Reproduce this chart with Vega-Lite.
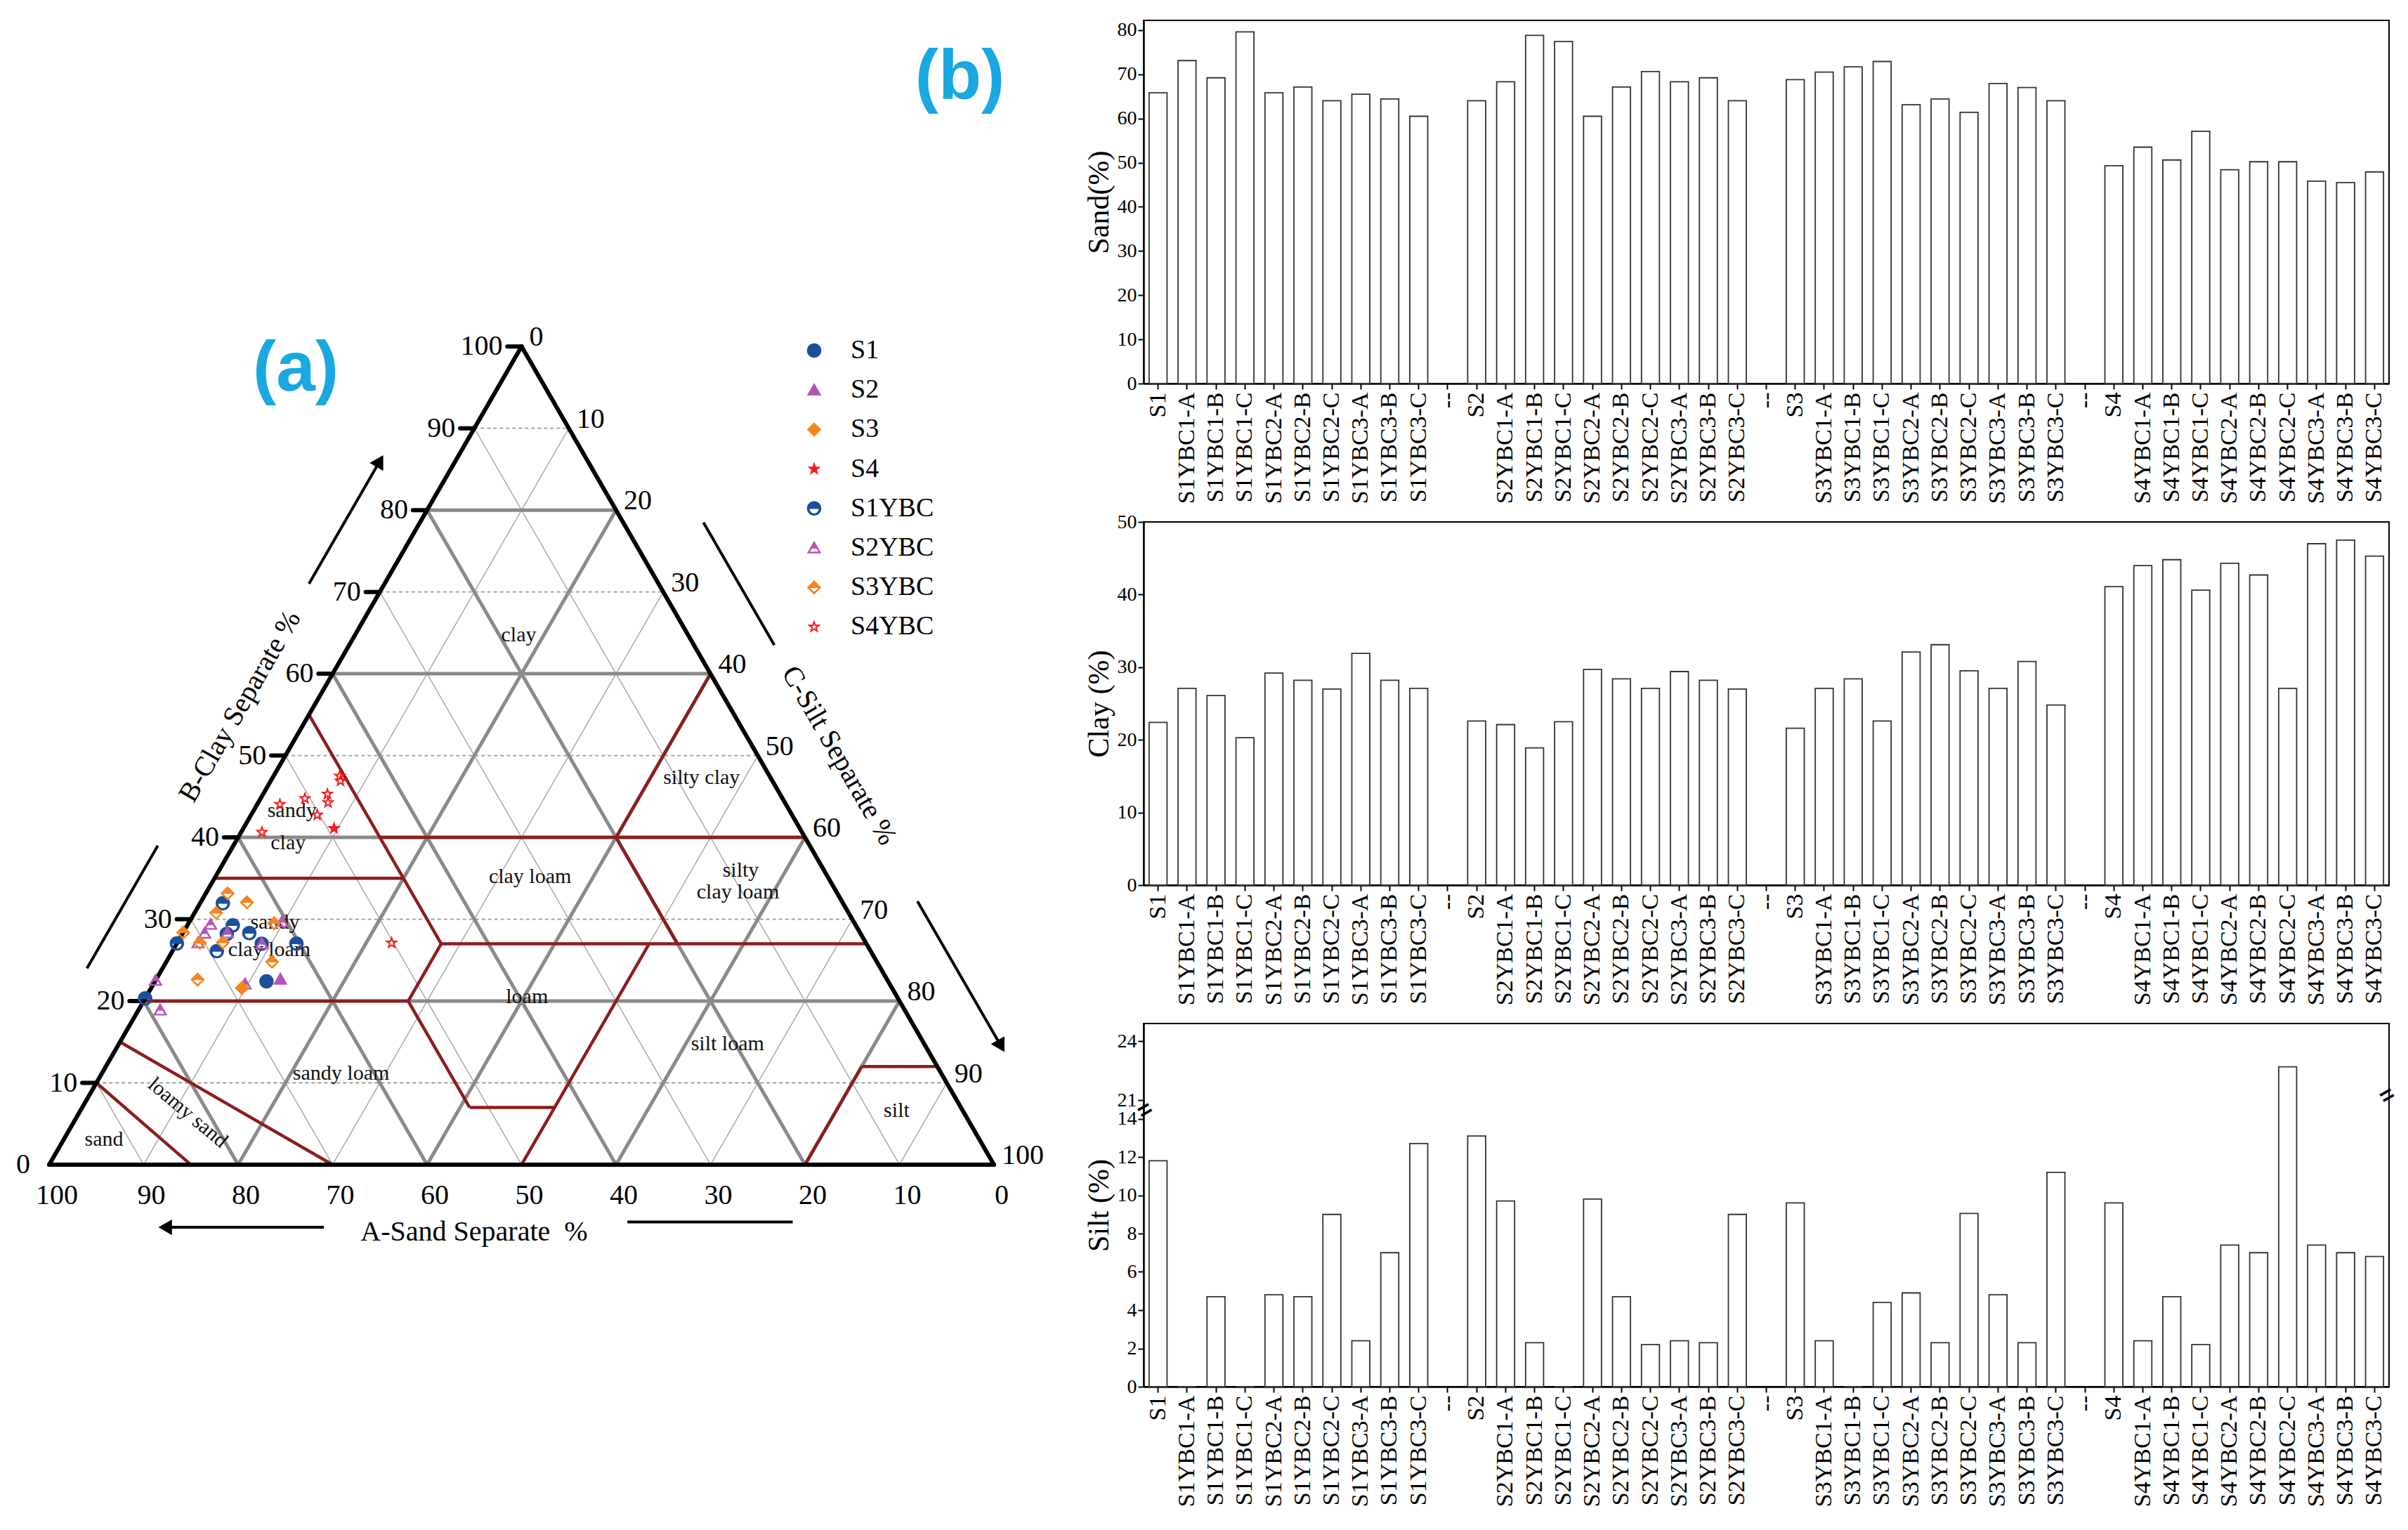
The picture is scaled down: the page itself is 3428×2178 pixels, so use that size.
{
  "$schema": "https://vega.github.io/schema/vega-lite/v6.json",
  "background": "white",
  "padding": {"left": 0, "top": 27, "right": 0, "bottom": 0},
  "config": {
    "font": "Liberation Serif",
    "view": {"stroke": null},
    "axis": {"labelFont": "Liberation Serif", "titleFont": "Liberation Serif", "labelColor": "black", "titleColor": "black", "domainColor": "black", "tickColor": "black", "domainWidth": 2.5, "tickWidth": 2, "tickSize": 8, "grid": false, "titleFontWeight": "normal", "labelOverlap": false}
  },
  "datasets": {
    "soil": [
      {"sample": "S1", "group": "S1", "sand": 65.8, "clay": 22.4, "silt": 11.8},
      {"sample": "S1YBC1-A", "group": "S1YBC", "sand": 73.1, "clay": 27.1, "silt": 0},
      {"sample": "S1YBC1-B", "group": "S1YBC", "sand": 69.2, "clay": 26.1, "silt": 4.7},
      {"sample": "S1YBC1-C", "group": "S1YBC", "sand": 79.6, "clay": 20.3, "silt": 0},
      {"sample": "S1YBC2-A", "group": "S1YBC", "sand": 65.8, "clay": 29.2, "silt": 4.8},
      {"sample": "S1YBC2-B", "group": "S1YBC", "sand": 67.1, "clay": 28.2, "silt": 4.7},
      {"sample": "S1YBC2-C", "group": "S1YBC", "sand": 64.0, "clay": 27.0, "silt": 9.0},
      {"sample": "S1YBC3-A", "group": "S1YBC", "sand": 65.5, "clay": 31.9, "silt": 2.4},
      {"sample": "S1YBC3-B", "group": "S1YBC", "sand": 64.4, "clay": 28.2, "silt": 7.0},
      {"sample": "S1YBC3-C", "group": "S1YBC", "sand": 60.5, "clay": 27.1, "silt": 12.7},
      {"sample": "S2", "group": "S2", "sand": 64.0, "clay": 22.6, "silt": 13.1},
      {"sample": "S2YBC1-A", "group": "S2YBC", "sand": 68.3, "clay": 22.1, "silt": 9.7},
      {"sample": "S2YBC1-B", "group": "S2YBC", "sand": 78.8, "clay": 18.9, "silt": 2.3},
      {"sample": "S2YBC1-C", "group": "S2YBC", "sand": 77.4, "clay": 22.5, "silt": 0},
      {"sample": "S2YBC2-A", "group": "S2YBC", "sand": 60.5, "clay": 29.7, "silt": 9.8},
      {"sample": "S2YBC2-B", "group": "S2YBC", "sand": 67.1, "clay": 28.4, "silt": 4.7},
      {"sample": "S2YBC2-C", "group": "S2YBC", "sand": 70.6, "clay": 27.1, "silt": 2.2},
      {"sample": "S2YBC3-A", "group": "S2YBC", "sand": 68.3, "clay": 29.4, "silt": 2.4},
      {"sample": "S2YBC3-B", "group": "S2YBC", "sand": 69.2, "clay": 28.2, "silt": 2.3},
      {"sample": "S2YBC3-C", "group": "S2YBC", "sand": 64.0, "clay": 27.0, "silt": 9.0},
      {"sample": "S3", "group": "S3", "sand": 68.8, "clay": 21.6, "silt": 9.6},
      {"sample": "S3YBC1-A", "group": "S3YBC", "sand": 70.5, "clay": 27.1, "silt": 2.4},
      {"sample": "S3YBC1-B", "group": "S3YBC", "sand": 71.7, "clay": 28.4, "silt": 0},
      {"sample": "S3YBC1-C", "group": "S3YBC", "sand": 72.9, "clay": 22.6, "silt": 4.4},
      {"sample": "S3YBC2-A", "group": "S3YBC", "sand": 63.1, "clay": 32.1, "silt": 4.9},
      {"sample": "S3YBC2-B", "group": "S3YBC", "sand": 64.4, "clay": 33.1, "silt": 2.3},
      {"sample": "S3YBC2-C", "group": "S3YBC", "sand": 61.4, "clay": 29.5, "silt": 9.05},
      {"sample": "S3YBC3-A", "group": "S3YBC", "sand": 67.9, "clay": 27.1, "silt": 4.8},
      {"sample": "S3YBC3-B", "group": "S3YBC", "sand": 67.0, "clay": 30.8, "silt": 2.3},
      {"sample": "S3YBC3-C", "group": "S3YBC", "sand": 64.0, "clay": 24.8, "silt": 11.2},
      {"sample": "S4", "group": "S4", "sand": 49.3, "clay": 41.1, "silt": 9.6},
      {"sample": "S4YBC1-A", "group": "S4YBC", "sand": 53.5, "clay": 44.0, "silt": 2.4},
      {"sample": "S4YBC1-B", "group": "S4YBC", "sand": 50.6, "clay": 44.8, "silt": 4.7},
      {"sample": "S4YBC1-C", "group": "S4YBC", "sand": 57.1, "clay": 40.6, "silt": 2.2},
      {"sample": "S4YBC2-A", "group": "S4YBC", "sand": 48.4, "clay": 44.3, "silt": 7.4},
      {"sample": "S4YBC2-B", "group": "S4YBC", "sand": 50.2, "clay": 42.7, "silt": 7.0},
      {"sample": "S4YBC2-C", "group": "S4YBC", "sand": 50.2, "clay": 27.1, "silt": 22.7},
      {"sample": "S4YBC3-A", "group": "S4YBC", "sand": 45.8, "clay": 47.0, "silt": 7.4},
      {"sample": "S4YBC3-B", "group": "S4YBC", "sand": 45.5, "clay": 47.5, "silt": 7.0},
      {"sample": "S4YBC3-C", "group": "S4YBC", "sand": 47.9, "clay": 45.3, "silt": 6.8}
    ],
    "lines": [
      {"kind": "minor", "s1": 10, "c1": 0, "s2": 10, "c2": 90},
      {"kind": "minor", "s1": 30, "c1": 0, "s2": 30, "c2": 70},
      {"kind": "minor", "s1": 50, "c1": 0, "s2": 50, "c2": 50},
      {"kind": "minor", "s1": 70, "c1": 0, "s2": 70, "c2": 30},
      {"kind": "minor", "s1": 90, "c1": 0, "s2": 90, "c2": 10},
      {"kind": "minor", "s1": 10, "c1": 0, "s2": 0, "c2": 10},
      {"kind": "minor", "s1": 30, "c1": 0, "s2": 0, "c2": 30},
      {"kind": "minor", "s1": 50, "c1": 0, "s2": 0, "c2": 50},
      {"kind": "minor", "s1": 70, "c1": 0, "s2": 0, "c2": 70},
      {"kind": "minor", "s1": 90, "c1": 0, "s2": 0, "c2": 90},
      {"kind": "minorh", "s1": 0, "c1": 10, "s2": 90, "c2": 10},
      {"kind": "minorh", "s1": 0, "c1": 30, "s2": 70, "c2": 30},
      {"kind": "minorh", "s1": 0, "c1": 50, "s2": 50, "c2": 50},
      {"kind": "minorh", "s1": 0, "c1": 70, "s2": 30, "c2": 70},
      {"kind": "minorh", "s1": 0, "c1": 90, "s2": 10, "c2": 90},
      {"kind": "major", "s1": 20, "c1": 0, "s2": 20, "c2": 80},
      {"kind": "major", "s1": 40, "c1": 0, "s2": 40, "c2": 60},
      {"kind": "major", "s1": 60, "c1": 0, "s2": 60, "c2": 40},
      {"kind": "major", "s1": 80, "c1": 0, "s2": 80, "c2": 20},
      {"kind": "major", "s1": 20, "c1": 0, "s2": 0, "c2": 20},
      {"kind": "major", "s1": 40, "c1": 0, "s2": 0, "c2": 40},
      {"kind": "major", "s1": 60, "c1": 0, "s2": 0, "c2": 60},
      {"kind": "major", "s1": 80, "c1": 0, "s2": 0, "c2": 80},
      {"kind": "major", "s1": 0, "c1": 20, "s2": 80, "c2": 20},
      {"kind": "major", "s1": 0, "c1": 40, "s2": 60, "c2": 40},
      {"kind": "major", "s1": 0, "c1": 60, "s2": 40, "c2": 60},
      {"kind": "major", "s1": 0, "c1": 80, "s2": 20, "c2": 80},
      {"kind": "usda", "s1": 15, "c1": 0, "s2": 0, "c2": 10},
      {"kind": "usda", "s1": 30, "c1": 0, "s2": 0, "c2": 15},
      {"kind": "usda", "s1": 0, "c1": 20, "s2": 28, "c2": 20},
      {"kind": "usda", "s1": 28, "c1": 20, "s2": 28, "c2": 27},
      {"kind": "usda", "s1": 28, "c1": 20, "s2": 41, "c2": 7},
      {"kind": "usda", "s1": 41, "c1": 7, "s2": 50, "c2": 7},
      {"kind": "usda", "s1": 50, "c1": 0, "s2": 50, "c2": 27},
      {"kind": "usda", "s1": 28, "c1": 27, "s2": 73, "c2": 27},
      {"kind": "usda", "s1": 28, "c1": 27, "s2": 0, "c2": 55},
      {"kind": "usda", "s1": 0, "c1": 35, "s2": 20, "c2": 35},
      {"kind": "usda", "s1": 15, "c1": 40, "s2": 60, "c2": 40},
      {"kind": "usda", "s1": 53, "c1": 27, "s2": 40, "c2": 40},
      {"kind": "usda", "s1": 40, "c1": 40, "s2": 40, "c2": 60},
      {"kind": "usda", "s1": 80, "c1": 0, "s2": 80, "c2": 12},
      {"kind": "usda", "s1": 80, "c1": 12, "s2": 88, "c2": 12},
      {"kind": "edge", "s1": 0, "c1": 0, "s2": 0, "c2": 100},
      {"kind": "edge", "s1": 0, "c1": 100, "s2": 100, "c2": 0},
      {"kind": "edge", "s1": 0, "c1": 0, "s2": 100, "c2": 0},
      {"kind": "tick", "s1": -1.5, "c1": 10, "s2": 0, "c2": 10},
      {"kind": "tick", "s1": -1.5, "c1": 20, "s2": 0, "c2": 20},
      {"kind": "tick", "s1": -1.5, "c1": 30, "s2": 0, "c2": 30},
      {"kind": "tick", "s1": -1.5, "c1": 40, "s2": 0, "c2": 40},
      {"kind": "tick", "s1": -1.5, "c1": 50, "s2": 0, "c2": 50},
      {"kind": "tick", "s1": -1.5, "c1": 60, "s2": 0, "c2": 60},
      {"kind": "tick", "s1": -1.5, "c1": 70, "s2": 0, "c2": 70},
      {"kind": "tick", "s1": -1.5, "c1": 80, "s2": 0, "c2": 80},
      {"kind": "tick", "s1": -1.5, "c1": 90, "s2": 0, "c2": 90},
      {"kind": "tick", "s1": -1.5, "c1": 100, "s2": 0, "c2": 100},
      {"kind": "arrow", "s1": -8, "c1": 71, "s2": -8, "c2": 86},
      {"kind": "arrow", "s1": -8, "c1": 24, "s2": -8, "c2": 39},
      {"kind": "arrow", "s1": 30, "c1": 78.5, "s2": 45, "c2": 63.5},
      {"kind": "arrow", "s1": 75.8, "c1": 32.2, "s2": 93.5, "c2": 14.5},
      {"kind": "arrow", "s1": 32.9, "c1": -7.65, "s2": 16.1, "c2": -7.65},
      {"kind": "arrow", "s1": 64.7, "c1": -7.0, "s2": 82.2, "c2": -7.0}
    ],
    "ticklabels": [
      {"side": "clay", "label": "0", "silt": 0, "clay": 0},
      {"side": "clay", "label": "10", "silt": 0, "clay": 10},
      {"side": "clay", "label": "20", "silt": 0, "clay": 20},
      {"side": "clay", "label": "30", "silt": 0, "clay": 30},
      {"side": "clay", "label": "40", "silt": 0, "clay": 40},
      {"side": "clay", "label": "50", "silt": 0, "clay": 50},
      {"side": "clay", "label": "60", "silt": 0, "clay": 60},
      {"side": "clay", "label": "70", "silt": 0, "clay": 70},
      {"side": "clay", "label": "80", "silt": 0, "clay": 80},
      {"side": "clay", "label": "90", "silt": 0, "clay": 90},
      {"side": "clay", "label": "100", "silt": 0, "clay": 100},
      {"side": "silt", "label": "0", "silt": 0, "clay": 100},
      {"side": "silt", "label": "10", "silt": 10, "clay": 90},
      {"side": "silt", "label": "20", "silt": 20, "clay": 80},
      {"side": "silt", "label": "30", "silt": 30, "clay": 70},
      {"side": "silt", "label": "40", "silt": 40, "clay": 60},
      {"side": "silt", "label": "50", "silt": 50, "clay": 50},
      {"side": "silt", "label": "60", "silt": 60, "clay": 40},
      {"side": "silt", "label": "70", "silt": 70, "clay": 30},
      {"side": "silt", "label": "80", "silt": 80, "clay": 20},
      {"side": "silt", "label": "90", "silt": 90, "clay": 10},
      {"side": "silt", "label": "100", "silt": 100, "clay": 0},
      {"side": "sand", "label": "100", "silt": 0, "clay": 0},
      {"side": "sand", "label": "90", "silt": 10, "clay": 0},
      {"side": "sand", "label": "80", "silt": 20, "clay": 0},
      {"side": "sand", "label": "70", "silt": 30, "clay": 0},
      {"side": "sand", "label": "60", "silt": 40, "clay": 0},
      {"side": "sand", "label": "50", "silt": 50, "clay": 0},
      {"side": "sand", "label": "40", "silt": 60, "clay": 0},
      {"side": "sand", "label": "30", "silt": 70, "clay": 0},
      {"side": "sand", "label": "20", "silt": 80, "clay": 0},
      {"side": "sand", "label": "10", "silt": 90, "clay": 0},
      {"side": "sand", "label": "0", "silt": 100, "clay": 0}
    ],
    "regions": [
      {"label": "clay", "silt": 17.35, "clay": 64.7},
      {"label": "silty clay", "silt": 45.4, "clay": 47.3},
      {"label": "sandy", "silt": 4.05, "clay": 43.3},
      {"label": "clay", "silt": 5.65, "clay": 39.3},
      {"label": "sandy", "silt": 9.1, "clay": 29.6},
      {"label": "clay loam", "silt": 10.15, "clay": 26.3},
      {"label": "clay loam", "silt": 33.3, "clay": 35.2},
      {"label": "silty", "silt": 55.2, "clay": 36.0},
      {"label": "clay loam", "silt": 56.25, "clay": 33.3},
      {"label": "loam", "silt": 40.3, "clay": 20.55},
      {"label": "silt loam", "silt": 64.4, "clay": 14.8},
      {"label": "sandy loam", "silt": 25.3, "clay": 11.2},
      {"label": "sand", "silt": 4.25, "clay": 3.1},
      {"label": "silt", "silt": 86.4, "clay": 6.6},
      {"label": "loamy sand", "silt": 11.5, "clay": 6.35}
    ]
  },
  "spacing": 148,
  "bounds": "flush",
  "hconcat": [
    {
      "width": 1480,
      "height": 1823,
      "encoding": {
        "x": {"field": "x", "type": "quantitative", "scale": {"domain": [-5.204, 104.833], "nice": false, "zero": false}, "axis": null},
        "y": {"field": "y", "type": "quantitative", "scale": {"domain": [-14.424, 121.115], "nice": false, "zero": false}, "axis": null}
      },
      "layer": [
        {
          "data": {"name": "lines"},
          "transform": [{"filter": "datum.kind == 'minor'"}, {"calculate": "datum.s1 + datum.c1 / 2", "as": "x"}, {"calculate": "datum.c1 * 0.8660254", "as": "y"}, {"calculate": "datum.s2 + datum.c2 / 2", "as": "x2"}, {"calculate": "datum.c2 * 0.8660254", "as": "y2"}],
          "mark": {"type": "rule", "color": "#a9a9a9", "strokeWidth": 1.5},
          "encoding": {"x2": {"field": "x2"}, "y2": {"field": "y2"}}
        },
        {
          "data": {"name": "lines"},
          "transform": [{"filter": "datum.kind == 'minorh'"}, {"calculate": "datum.s1 + datum.c1 / 2", "as": "x"}, {"calculate": "datum.c1 * 0.8660254", "as": "y"}, {"calculate": "datum.s2 + datum.c2 / 2", "as": "x2"}, {"calculate": "datum.c2 * 0.8660254", "as": "y2"}],
          "mark": {"type": "rule", "color": "#9a9a9a", "strokeWidth": 1.8, "strokeDash": [5, 4]},
          "encoding": {"x2": {"field": "x2"}, "y2": {"field": "y2"}}
        },
        {
          "data": {"name": "lines"},
          "transform": [{"filter": "datum.kind == 'major'"}, {"calculate": "datum.s1 + datum.c1 / 2", "as": "x"}, {"calculate": "datum.c1 * 0.8660254", "as": "y"}, {"calculate": "datum.s2 + datum.c2 / 2", "as": "x2"}, {"calculate": "datum.c2 * 0.8660254", "as": "y2"}],
          "mark": {"type": "rule", "color": "#8a8a8a", "strokeWidth": 5},
          "encoding": {"x2": {"field": "x2"}, "y2": {"field": "y2"}}
        },
        {
          "data": {"name": "lines"},
          "transform": [{"filter": "datum.kind == 'usda'"}, {"calculate": "datum.s1 + datum.c1 / 2", "as": "x"}, {"calculate": "datum.c1 * 0.8660254", "as": "y"}, {"calculate": "datum.s2 + datum.c2 / 2", "as": "x2"}, {"calculate": "datum.c2 * 0.8660254", "as": "y2"}],
          "mark": {"type": "rule", "color": "#8b1e1e", "strokeWidth": 4.5},
          "encoding": {"x2": {"field": "x2"}, "y2": {"field": "y2"}}
        },
        {
          "data": {"name": "lines"},
          "transform": [{"filter": "datum.kind == 'edge' || datum.kind == 'tick'"}, {"calculate": "datum.s1 + datum.c1 / 2", "as": "x"}, {"calculate": "datum.c1 * 0.8660254", "as": "y"}, {"calculate": "datum.s2 + datum.c2 / 2", "as": "x2"}, {"calculate": "datum.c2 * 0.8660254", "as": "y2"}],
          "mark": {"type": "rule", "color": "black", "strokeWidth": 6, "strokeCap": "round"},
          "encoding": {"x2": {"field": "x2"}, "y2": {"field": "y2"}}
        },
        {
          "data": {"name": "lines"},
          "transform": [{"filter": "datum.kind == 'arrow'"}, {"calculate": "datum.s1 + datum.c1 / 2", "as": "x"}, {"calculate": "datum.c1 * 0.8660254", "as": "y"}, {"calculate": "datum.s2 + datum.c2 / 2", "as": "x2"}, {"calculate": "datum.c2 * 0.8660254", "as": "y2"}],
          "mark": {"type": "rule", "color": "black", "strokeWidth": 4},
          "encoding": {"x2": {"field": "x2"}, "y2": {"field": "y2"}}
        },
        {
          "data": {"values": [{"silt": -8, "clay": 86}]},
          "transform": [{"calculate": "datum.silt + datum.clay / 2", "as": "x"}, {"calculate": "datum.clay * 0.8660254", "as": "y"}],
          "mark": {"type": "point", "shape": "triangle-up", "filled": true, "color": "black", "size": 500, "angle": 30, "opacity": 1}
        },
        {
          "data": {"values": [{"silt": 93.5, "clay": 14.5}]},
          "transform": [{"calculate": "datum.silt + datum.clay / 2", "as": "x"}, {"calculate": "datum.clay * 0.8660254", "as": "y"}],
          "mark": {"type": "point", "shape": "triangle-up", "filled": true, "color": "black", "size": 500, "angle": 150, "opacity": 1}
        },
        {
          "data": {"values": [{"silt": 16.1, "clay": -7.65}]},
          "transform": [{"calculate": "datum.silt + datum.clay / 2", "as": "x"}, {"calculate": "datum.clay * 0.8660254", "as": "y"}],
          "mark": {"type": "point", "shape": "triangle-up", "filled": true, "color": "black", "size": 500, "angle": -90, "opacity": 1}
        },
        {
          "data": {"name": "ticklabels"},
          "transform": [{"filter": "datum.side == 'clay'"}, {"calculate": "datum.silt + datum.clay / 2", "as": "x"}, {"calculate": "datum.clay * 0.8660254", "as": "y"}],
          "mark": {"type": "text", "align": "right", "baseline": "middle", "dx": -27, "fontSize": 40, "color": "black"},
          "encoding": {"text": {"field": "label"}}
        },
        {
          "data": {"name": "ticklabels"},
          "transform": [{"filter": "datum.side == 'silt'"}, {"calculate": "datum.silt + datum.clay / 2", "as": "x"}, {"calculate": "datum.clay * 0.8660254", "as": "y"}],
          "mark": {"type": "text", "align": "left", "baseline": "middle", "dx": 11, "dy": -13, "fontSize": 40, "color": "black"},
          "encoding": {"text": {"field": "label"}}
        },
        {
          "data": {"name": "ticklabels"},
          "transform": [{"filter": "datum.side == 'sand'"}, {"calculate": "datum.silt + datum.clay / 2", "as": "x"}, {"calculate": "datum.clay * 0.8660254", "as": "y"}],
          "mark": {"type": "text", "align": "center", "baseline": "middle", "dx": 11, "dy": 44, "fontSize": 40, "color": "black"},
          "encoding": {"text": {"field": "label"}}
        },
        {
          "data": {"name": "regions"},
          "transform": [{"filter": "datum.label != 'loamy sand'"}, {"calculate": "datum.silt + datum.clay / 2", "as": "x"}, {"calculate": "datum.clay * 0.8660254", "as": "y"}],
          "mark": {"type": "text", "align": "center", "baseline": "middle", "fontSize": 30, "color": "#111111"},
          "encoding": {"text": {"field": "label"}}
        },
        {
          "data": {"name": "regions"},
          "transform": [{"filter": "datum.label == 'loamy sand'"}, {"calculate": "datum.silt + datum.clay / 2", "as": "x"}, {"calculate": "datum.clay * 0.8660254", "as": "y"}],
          "mark": {"type": "text", "align": "center", "baseline": "middle", "fontSize": 30, "angle": 40, "color": "#111111"},
          "encoding": {"text": {"field": "label"}}
        },
        {
          "data": {"values": [{"label": "A-Sand Separate\u2002%", "silt": 49.1, "clay": -8.24}]},
          "transform": [{"calculate": "datum.silt + datum.clay / 2", "as": "x"}, {"calculate": "datum.clay * 0.8660254", "as": "y"}],
          "mark": {"type": "text", "align": "center", "baseline": "middle", "fontSize": 40, "color": "black"},
          "encoding": {"text": {"field": "label"}}
        },
        {
          "data": {"values": [{"label": "B-Clay Separate  %", "silt": -7.8, "clay": 56.0}]},
          "transform": [{"calculate": "datum.silt + datum.clay / 2", "as": "x"}, {"calculate": "datum.clay * 0.8660254", "as": "y"}],
          "mark": {"type": "text", "align": "center", "baseline": "middle", "fontSize": 40, "angle": -60, "color": "black"},
          "encoding": {"text": {"field": "label"}}
        },
        {
          "data": {"values": [{"label": "C-Silt Separate  %", "silt": 58.6, "clay": 50.0}]},
          "transform": [{"calculate": "datum.silt + datum.clay / 2", "as": "x"}, {"calculate": "datum.clay * 0.8660254", "as": "y"}],
          "mark": {"type": "text", "align": "center", "baseline": "middle", "fontSize": 40, "angle": 60, "color": "black"},
          "encoding": {"text": {"field": "label"}}
        },
        {
          "data": {"values": [{"label": "(a)", "silt": -22.5, "clay": 97.2}, {"label": "(b)", "silt": 30.0, "clay": 132.8}]},
          "transform": [{"calculate": "datum.silt + datum.clay / 2", "as": "x"}, {"calculate": "datum.clay * 0.8660254", "as": "y"}],
          "mark": {"type": "text", "align": "center", "baseline": "middle", "fontSize": 100, "font": "Liberation Sans", "fontWeight": "bold", "color": "#1aa8e0"},
          "encoding": {"text": {"field": "label"}}
        },
        {
          "data": {"name": "soil"},
          "transform": [{"calculate": "(datum.silt + datum.clay / 2) * 100 / (datum.sand + datum.clay + datum.silt)", "as": "x"}, {"calculate": "datum.clay * 0.8660254 * 100 / (datum.sand + datum.clay + datum.silt)", "as": "y"}],
          "mark": {"type": "point", "filled": true, "size": 420, "opacity": 1, "strokeWidth": 0},
          "encoding": {
            "color": {
              "field": "group", "type": "nominal",
              "scale": {"domain": ["S1", "S2", "S3", "S4", "S1YBC", "S2YBC", "S3YBC", "S4YBC"], "range": ["#1b4f9c", "#b455b6", "#f7851e", "#f21c1c", "#1b4f9c", "#b455b6", "#f7851e", "#f21c1c"]},
              "legend": {"title": null, "orient": "none", "legendX": 1140, "legendY": 451, "labelFontSize": 38, "labelFont": "Liberation Serif", "labelColor": "black", "symbolSize": 420, "rowPadding": 18.2, "labelOffset": 33, "symbolStrokeWidth": 0, "padding": 0, "symbolOpacity": 1}
            },
            "shape": {
              "field": "group", "type": "nominal",
              "scale": {"domain": ["S1", "S2", "S3", "S4", "S1YBC", "S2YBC", "S3YBC", "S4YBC"], "range": [
                "M -1 0 A 1 1 0 1 1 1 0 A 1 1 0 1 1 -1 0 Z",
                "M 0 -1 L 1 0.75 L -1 0.75 Z",
                "M 0 -1 L 1 0 L 0 1 L -1 0 Z",
                "M 0 -1 L 0.235 -0.324 L 0.951 -0.309 L 0.38 0.124 L 0.588 0.809 L 0 0.4 L -0.588 0.809 L -0.38 0.124 L -0.951 -0.309 L -0.235 -0.324 Z",
                "M -1 0 A 1 1 0 1 1 1 0 A 1 1 0 1 1 -1 0 Z M 0.62 0.08 L -0.62 0.08 A 0.62 0.62 0 0 0 0.62 0.08 Z",
                "M 0 -1 L 1 0.75 L -1 0.75 Z M -0.3 0.1 L -0.6 0.52 L 0.6 0.52 L 0.3 0.1 Z",
                "M 0 -1 L 1 0 L 0 1 L -1 0 Z M 0.6 0.08 L -0.6 0.08 L 0 0.62 Z",
                "M 0 -1 L 0.235 -0.324 L 0.951 -0.309 L 0.38 0.124 L 0.588 0.809 L 0 0.4 L -0.588 0.809 L -0.38 0.124 L -0.951 -0.309 L -0.235 -0.324 Z M 0 -0.4 L -0.094 -0.13 L -0.38 -0.124 L -0.152 0.05 L -0.235 0.324 L 0 0.16 L 0.235 0.324 L 0.152 0.05 L 0.38 -0.124 L 0.094 -0.13 Z"
              ]},
              "legend": {"title": null, "orient": "none", "legendX": 1140, "legendY": 451, "labelFontSize": 38, "labelFont": "Liberation Serif", "labelColor": "black", "symbolSize": 420, "rowPadding": 18.2, "labelOffset": 33, "symbolStrokeWidth": 0, "padding": 0, "symbolOpacity": 1}
            }
          }
        }
      ]
    },
    {
      "spacing": 197,
      "bounds": "flush",
      "vconcat": [
        {
          "width": 1773, "height": 517,
          "view": {"stroke": "black", "strokeWidth": 2},
          "data": {"name": "soil"},
          "mark": {"type": "bar", "fill": "white", "stroke": "#333333", "strokeWidth": 1.8},
          "encoding": {
            "x": {"field": "sample", "type": "nominal", "sort": null,
              "scale": {"domain": ["S1", "S1YBC1-A", "S1YBC1-B", "S1YBC1-C", "S1YBC2-A", "S1YBC2-B", "S1YBC2-C", "S1YBC3-A", "S1YBC3-B", "S1YBC3-C", "sep1", "S2", "S2YBC1-A", "S2YBC1-B", "S2YBC1-C", "S2YBC2-A", "S2YBC2-B", "S2YBC2-C", "S2YBC3-A", "S2YBC3-B", "S2YBC3-C", "sep2", "S3", "S3YBC1-A", "S3YBC1-B", "S3YBC1-C", "S3YBC2-A", "S3YBC2-B", "S3YBC2-C", "S3YBC3-A", "S3YBC3-B", "S3YBC3-C", "sep3", "S4", "S4YBC1-A", "S4YBC1-B", "S4YBC1-C", "S4YBC2-A", "S4YBC2-B", "S4YBC2-C", "S4YBC3-A", "S4YBC3-B", "S4YBC3-C"], "paddingInner": 0.38, "paddingOuter": 0.19},
              "axis": {"title": null, "labelAngle": -90, "labelFontSize": 34, "labelPadding": 4, "labelExpr": "indexof(datum.value, 'sep') == 0 ? '--' : datum.value"}},
            "y": {"field": "sand", "type": "quantitative", "scale": {"domain": [0, 82.2], "nice": false},
              "axis": {"title": "Sand(%)", "values": [0, 10, 20, 30, 40, 50, 60, 70, 80], "labelFontSize": 28, "titleFontSize": 42}}
          }
        },
        {
          "width": 1773, "height": 517,
          "view": {"stroke": "black", "strokeWidth": 2},
          "data": {"name": "soil"},
          "mark": {"type": "bar", "fill": "white", "stroke": "#333333", "strokeWidth": 1.8},
          "encoding": {
            "x": {"field": "sample", "type": "nominal", "sort": null,
              "scale": {"domain": ["S1", "S1YBC1-A", "S1YBC1-B", "S1YBC1-C", "S1YBC2-A", "S1YBC2-B", "S1YBC2-C", "S1YBC3-A", "S1YBC3-B", "S1YBC3-C", "sep1", "S2", "S2YBC1-A", "S2YBC1-B", "S2YBC1-C", "S2YBC2-A", "S2YBC2-B", "S2YBC2-C", "S2YBC3-A", "S2YBC3-B", "S2YBC3-C", "sep2", "S3", "S3YBC1-A", "S3YBC1-B", "S3YBC1-C", "S3YBC2-A", "S3YBC2-B", "S3YBC2-C", "S3YBC3-A", "S3YBC3-B", "S3YBC3-C", "sep3", "S4", "S4YBC1-A", "S4YBC1-B", "S4YBC1-C", "S4YBC2-A", "S4YBC2-B", "S4YBC2-C", "S4YBC3-A", "S4YBC3-B", "S4YBC3-C"], "paddingInner": 0.38, "paddingOuter": 0.19},
              "axis": {"title": null, "labelAngle": -90, "labelFontSize": 34, "labelPadding": 4, "labelExpr": "indexof(datum.value, 'sep') == 0 ? '--' : datum.value"}},
            "y": {"field": "clay", "type": "quantitative", "scale": {"domain": [0, 50], "nice": false},
              "axis": {"title": "Clay (%)", "values": [0, 10, 20, 30, 40, 50], "labelFontSize": 28, "titleFontSize": 42}}
          }
        },
        {
          "width": 1773, "height": 517,
          "view": {"stroke": "black", "strokeWidth": 2},
          "encoding": {
            "x": {"field": "sample", "type": "nominal", "sort": null,
              "scale": {"domain": ["S1", "S1YBC1-A", "S1YBC1-B", "S1YBC1-C", "S1YBC2-A", "S1YBC2-B", "S1YBC2-C", "S1YBC3-A", "S1YBC3-B", "S1YBC3-C", "sep1", "S2", "S2YBC1-A", "S2YBC1-B", "S2YBC1-C", "S2YBC2-A", "S2YBC2-B", "S2YBC2-C", "S2YBC3-A", "S2YBC3-B", "S2YBC3-C", "sep2", "S3", "S3YBC1-A", "S3YBC1-B", "S3YBC1-C", "S3YBC2-A", "S3YBC2-B", "S3YBC2-C", "S3YBC3-A", "S3YBC3-B", "S3YBC3-C", "sep3", "S4", "S4YBC1-A", "S4YBC1-B", "S4YBC1-C", "S4YBC2-A", "S4YBC2-B", "S4YBC2-C", "S4YBC3-A", "S4YBC3-B", "S4YBC3-C"], "paddingInner": 0.38, "paddingOuter": 0.19},
              "axis": {"title": null, "labelAngle": -90, "labelFontSize": 34, "labelPadding": 4, "labelExpr": "indexof(datum.value, 'sep') == 0 ? '--' : datum.value"}},
            "y": {"field": "silt", "type": "quantitative", "scale": {"domain": [0, 14, 21, 24.9], "range": [517, 135.5, 109.1, 0], "nice": false, "zero": false},
              "axis": {"title": "Silt (%)", "values": [0, 2, 4, 6, 8, 10, 12, 14, 21, 24], "labelFontSize": 28, "titleFontSize": 42}}
          },
          "layer": [
            {
              "data": {"name": "soil"},
              "mark": {"type": "bar", "fill": "white", "stroke": "#333333", "strokeWidth": 1.8}
            },
            {
              "data": {"values": [{"sample": "S1", "silt": 19.8}]},
              "mark": {"type": "text", "text": "=", "font": "Liberation Sans", "fontWeight": "bold", "fontSize": 34, "angle": -30, "dx": -21, "align": "center", "baseline": "middle", "color": "black"}
            },
            {
              "data": {"values": [{"sample": "S4YBC3-C", "silt": 19.8}]},
              "mark": {"type": "text", "text": "=", "font": "Liberation Sans", "fontWeight": "bold", "fontSize": 34, "angle": -30, "dx": 21, "align": "center", "baseline": "middle", "color": "black"}
            }
          ]
        }
      ]
    }
  ]
}
